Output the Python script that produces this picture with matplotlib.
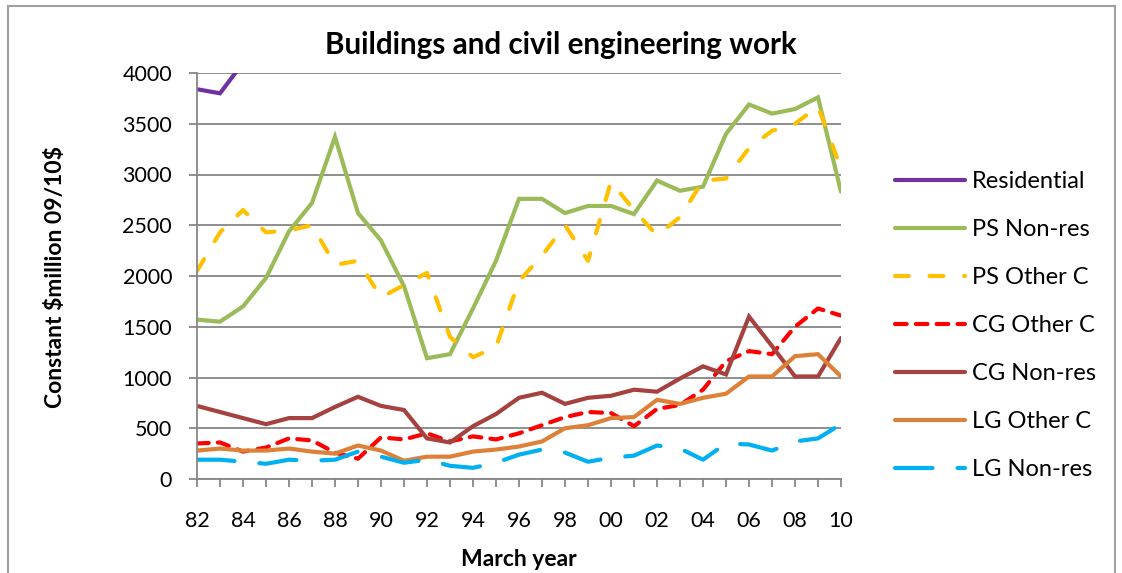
import matplotlib
matplotlib.use('Agg')
import matplotlib.pyplot as plt
from matplotlib.patches import Rectangle

plt.rcParams['font.family'] = ['Lato', 'DejaVu Sans']

# March years 1982..2010
years = list(range(1982, 2011))
tick_labels = ["82", "84", "86", "88", "90", "92", "94", "96", "98", "00",
               "02", "04", "06", "08", "10"]

# Residential runs off the top of the chart after 1983 (values above 4000 are estimates)
residential = [3840, 3800, 4100, 4400, 4600, 4700, 4500, 4400, 4300, 4200,
               4100, 4300, 4700, 5000, 5300, 5200, 5100, 5000, 5300, 5200,
               5600, 6000, 6400, 6700, 6800, 6700, 6300, 5200, 4600]
ps_nonres = [1570, 1550, 1700, 1980, 2440, 2720, 3370, 2620, 2350, 1900,
             1190, 1230, 1680, 2150, 2760, 2760, 2620, 2690, 2690, 2610,
             2940, 2840, 2880, 3400, 3690, 3600, 3645, 3760, 2830]
ps_other = [2050, 2430, 2650, 2430, 2450, 2500, 2110, 2150, 1790, 1910,
            2030, 1400, 1200, 1300, 1950, 2200, 2500, 2150, 2930, 2650,
            2400, 2580, 2940, 2960, 3260, 3430, 3500, 3670, 3060]
cg_other = [350, 360, 270, 310, 400, 380, 260, 200, 410, 390,
            450, 370, 420, 390, 450, 530, 610, 660, 650, 520,
            690, 730, 880, 1160, 1260, 1230, 1500, 1680, 1610]
cg_nonres = [720, 660, 600, 540, 600, 600, 710, 810, 720, 680,
             400, 360, 520, 640, 800, 850, 740, 800, 820, 880,
             860, 990, 1110, 1030, 1600, 1310, 1010, 1010, 1390]
lg_other = [280, 300, 280, 280, 300, 270, 250, 330, 280, 180,
            220, 220, 270, 290, 320, 370, 500, 530, 600, 610,
            780, 740, 800, 840, 1010, 1010, 1210, 1230, 1010]
lg_nonres = [190, 190, 170, 150, 190, 180, 190, 270, 220, 160,
             190, 130, 110, 160, 240, 290, 260, 170, 210, 230,
             330, 300, 190, 350, 340, 280, 370, 400, 540]

series = [
    ("Residential", residential, "#7030A0", "-"),
    ("PS Non-res", ps_nonres, "#9BBB59", "-"),
    ("PS Other C", ps_other, "#FFC000", (0, (3.3, 5.0))),
    ("CG Other C", cg_other, "#FF0000", (0, (2.8, 2.2))),
    ("CG Non-res", cg_nonres, "#A5423F", "-"),
    ("LG Other C", lg_other, "#DD8139", "-"),
    ("LG Non-res", lg_nonres, "#00B0F0", (0, (9.0, 6.0))),
]

fig = plt.figure(figsize=(11.22, 5.73), dpi=100)
fig.patches.append(Rectangle((8 / 1122, -0.1), 1107 / 1122, 1.1 - 6 / 573,
                             transform=fig.transFigure, fill=False,
                             edgecolor="#A0A0A0", linewidth=1.5))

ax = fig.add_axes([197 / 1122, 94 / 573, 644 / 1122, 406 / 573])

for name, vals, color, ls in series:
    ax.plot(years, vals, color=color, linestyle=ls, linewidth=3.0,
            solid_capstyle='round', dash_capstyle='round',
            solid_joinstyle='miter', label=name)

ax.set_xlim(1982, 2010)
ax.set_ylim(0, 4000)
ax.set_yticks(range(0, 4001, 500))
ax.set_xticks(years)
ax.set_xticklabels([tick_labels[i // 2] if i % 2 == 0 else ""
                    for i in range(len(years))])
ax.grid(axis='y', color="#868686", linewidth=1.3)
ax.set_axisbelow(True)
for side in ['top', 'right']:
    ax.spines[side].set_visible(False)
for side in ['left', 'bottom']:
    ax.spines[side].set_color("#868686")
    ax.spines[side].set_linewidth(1.3)
ax.tick_params(axis='y', length=6, width=1.3, color="#868686", pad=12,
               labelsize=15.5)
ax.tick_params(axis='x', length=6, width=1.3, color="#868686", pad=17,
               labelsize=15.5)

fig.text(0.5, 1 - 45 / 573, "Buildings and civil engineering work",
         ha='center', va='center', fontsize=21.3, fontweight='bold')
fig.text(56 / 1122, 1 - 277 / 573, "Constant \\$million 09/10\\$", rotation=90,
         ha='center', va='center', fontsize=16.5, fontweight='bold')
fig.text(519 / 1122, 1 - 559 / 573, "March year", ha='center', va='center',
         fontsize=16.5, fontweight='bold')

ax.legend(loc='upper left', bbox_to_anchor=(895 / 1122, 1 - 171 / 573),
          bbox_transform=fig.transFigure, frameon=False, fontsize=17,
          handlelength=2.97, handletextpad=0.3, labelspacing=1.145,
          borderaxespad=0, borderpad=0)

fig.savefig("out.png", dpi=100)
